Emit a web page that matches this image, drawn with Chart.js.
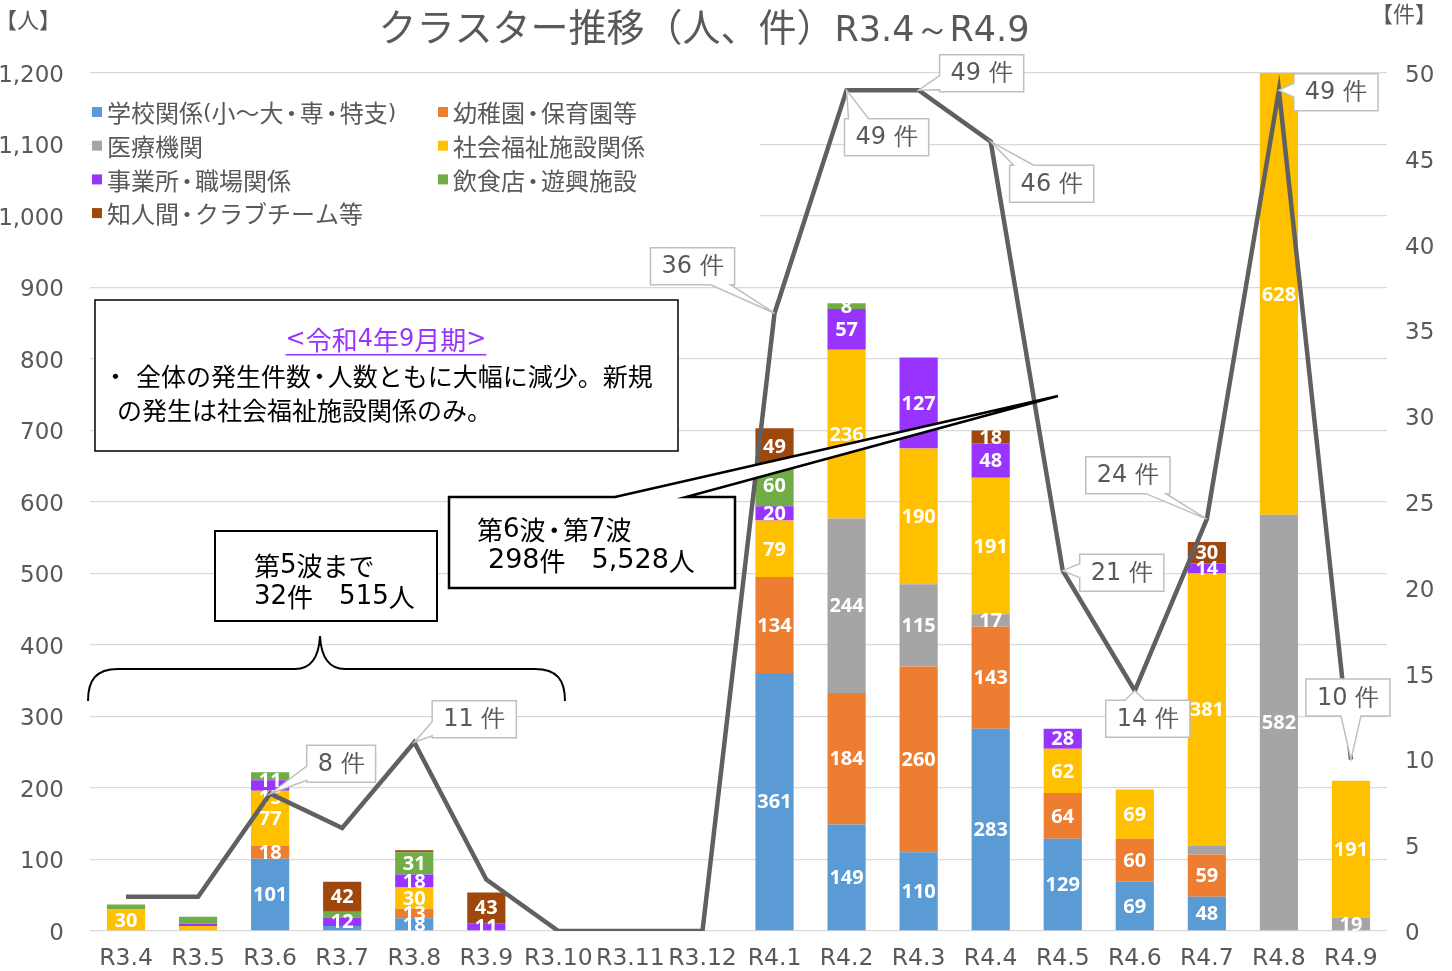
<!DOCTYPE html>
<html><head><meta charset="utf-8">
<script src="https://cdn.jsdelivr.net/npm/chart.js@4.4.1/dist/chart.umd.min.js"></script>
<style>html,body{margin:0;padding:0;background:#fff;overflow:hidden}</style>
</head><body>
<canvas id="c" width="1452" height="971" style="display:block;width:1452px;height:971px"></canvas>
<script>
// ---- data ----
const categories = ['R3.4','R3.5','R3.6','R3.7','R3.8','R3.9','R3.10','R3.11','R3.12','R4.1','R4.2','R4.3','R4.4','R4.5','R4.6','R4.7','R4.8','R4.9'];
const seriesNames = ['学校関係(小～大・専・特支)','幼稚園・保育園等','医療機関','社会福祉施設関係','事業所・職場関係','飲食店・遊興施設','知人間・クラブチーム等'];
const school    = [0,0,101,7,18,0,0,0,0,361,149,110,283,129,69,48,0,0];
const nursery   = [0,0,18,0,13,0,0,0,0,134,184,260,143,64,60,59,0,0];
const medical   = [0,0,0,0,0,0,0,0,0,0,244,115,17,0,0,12,582,19];
const welfare   = [30,7,77,0,30,0,0,0,0,79,236,190,191,62,69,381,628,191];
const workplace = [0,3,15,12,18,11,0,0,0,20,57,127,48,28,0,14,0,0];
const dining    = [7,10,11,8,31,0,0,0,0,60,8,0,0,0,0,0,0,0];
const friends   = [0,0,0,42,3,43,0,0,0,49,0,0,18,0,0,30,0,0];
const clusters  = [2,2,8,6,11,3,0,0,0,36,49,49,46,21,14,24,49,10];
const leftTicks  = [0,100,200,300,400,500,600,700,800,900,1000,1100,1200];
const rightTicks = [0,5,10,15,20,25,30,35,40,45,50];
const clusterUnit = '件';
const leftTicksUnit = '【人】';
const rightTicksUnit = '【件】';
const titleMain = 'クラスター推移（人、件）';
const titleSub = 'R3.4～R4.9';
// segments whose value is not labelled in the original
const unlabeled = ['飲食店・遊興施設|R3.4','社会福祉施設関係|R3.5','事業所・職場関係|R3.5','飲食店・遊興施設|R3.5',
  '学校関係(小～大・専・特支)|R3.7','飲食店・遊興施設|R3.7','知人間・クラブチーム等|R3.8','医療機関|R4.7'];
const calloutCategories = ['R3.6','R3.8','R4.1','R4.2','R4.3','R4.4','R4.5','R4.6','R4.7','R4.8','R4.9'];

// ---- styles ----
const colors = ['#5B9BD5','#ED7D31','#A5A5A5','#FFC000','#9933FF','#70AD47','#9E480E'];
const calloutOffsets = {'R3.6':[71,-30],'R3.8':[60,-23],'R4.1':[-82,-47],'R4.2':[40,47],'R4.3':[63,-17],
  'R4.4':[61,42],'R4.5':[59,2],'R4.6':[13,28],'R4.7':[-79,-44],'R4.8':[57,2],'R4.9':[-3,-62]};
const labelNudge = {'事業所・職場関係|R3.6':12,'飲食店・遊興施設|R3.6':4};
const TXT = '#595959';
const JP = '"Noto Sans CJK JP"';
const NUM = '"DejaVu Sans"';

const seriesValues = [school,nursery,medical,welfare,workplace,dining,friends];
const datasets = seriesNames.map((n,i)=>({
  type:'bar', label:n, data:seriesValues[i], backgroundColor:colors[i], yAxisID:'y', stack:'s', order:1,
  categoryPercentage:1, barPercentage:0.53
}));
datasets.push({type:'line', label:'件数', data:clusters, yAxisID:'y1', borderColor:'#606060', borderWidth:4.5,
  pointRadius:0, tension:0, order:0, fill:false});

function runs(text){
  const out=[]; let cur='', kind=null;
  for (const ch of text){
    const k = ch==='・' ? 'dot' : (ch.charCodeAt(0)<128 ? 'a' : 'j');
    if (k!==kind || k==='dot'){ if(cur) out.push([kind,cur]); cur=ch; kind=k; } else cur+=ch;
  }
  if (cur) out.push([kind,cur]);
  return out;
}
function mixedWidth(ctx,text,js,as){
  let w=0;
  for (const [k,s] of runs(text)){
    if (k==='dot'){ w+=js*0.67; continue; }
    ctx.font = (k==='a'? as+'px '+NUM : js+'px '+JP);
    w+=ctx.measureText(s).width;
  }
  return w;
}
function drawMixed(ctx,text,x,y,js,as,align){
  const w = mixedWidth(ctx,text,js,as);
  let cx = align==='center' ? x-w/2 : x;
  ctx.textAlign='left';
  for (const [k,s] of runs(text)){
    if (k==='dot'){
      ctx.font = js+'px '+JP; ctx.textAlign='center';
      ctx.fillText('・', cx+js*0.335, y); ctx.textAlign='left';
      cx+=js*0.67; continue;
    }
    ctx.font = (k==='a'? as+'px '+NUM : js+'px '+JP);
    ctx.fillText(s,cx,y); cx+=ctx.measureText(s).width;
  }
  return w;
}

function drawBarLabels(chart){
  const ctx = chart.ctx, ca = chart.chartArea;
  ctx.save();
  ctx.font = 'bold 20px "Open Sans"';
  ctx.fillStyle = '#fff'; ctx.textAlign='center'; ctx.textBaseline='middle';
  chart.data.datasets.forEach((ds,di)=>{
    if (ds.type!=='bar') return;
    const meta = chart.getDatasetMeta(di);
    meta.data.forEach((el,i)=>{
      const v = ds.data[i];
      if (!v) return;
      const key = ds.label+'|'+categories[i];
      if (unlabeled.includes(key)) return;
      const p = el.getProps(['x','y','base'],true);
      const top = Math.max(Math.min(p.y,p.base), ca.top);
      const bot = Math.min(Math.max(p.y,p.base), ca.bottom);
      ctx.fillText(String(v), p.x, (top+bot)/2+1+(labelNudge[key]||0));
    });
  });
  ctx.restore();
}
const barLabels = {
  id:'barLabels',
  beforeDatasetDraw(chart,args){
    if (args.meta.type==='line') drawBarLabels(chart);
  }
};

function calloutPath(ctx,l,t,r,b,px,py){
  const cx=(l+r)/2, cy=(t+b)/2, w=r-l, h=b-t;
  const dx=px-cx, dy=py-cy;
  const clamp=(v,a,c)=>Math.max(a,Math.min(c,v));
  ctx.beginPath();
  if (Math.abs(dx)/(w/2) > Math.abs(dy)/(h/2)) {
    const c = clamp(py,t+9,b-9);
    if (dx<0){
      ctx.moveTo(l,t); ctx.lineTo(r,t); ctx.lineTo(r,b); ctx.lineTo(l,b);
      ctx.lineTo(l,c+7); ctx.lineTo(px,py); ctx.lineTo(l,c-7);
    } else {
      ctx.moveTo(l,t); ctx.lineTo(r,t); ctx.lineTo(r,c-7); ctx.lineTo(px,py); ctx.lineTo(r,c+7);
      ctx.lineTo(r,b); ctx.lineTo(l,b);
    }
  } else {
    const c = clamp(px,l+14,r-14);
    if (dy<0){
      ctx.moveTo(l,t); ctx.lineTo(c-10,t); ctx.lineTo(px,py); ctx.lineTo(c+10,t); ctx.lineTo(r,t);
      ctx.lineTo(r,b); ctx.lineTo(l,b);
    } else {
      ctx.moveTo(l,t); ctx.lineTo(r,t); ctx.lineTo(r,b); ctx.lineTo(c+10,b); ctx.lineTo(px,py);
      ctx.lineTo(c-10,b); ctx.lineTo(l,b);
    }
  }
  ctx.closePath();
}

function textBox(ctx,l,t,r,b,lw){
  ctx.fillStyle='#fff'; ctx.fillRect(l,t,r-l,b-t);
  ctx.strokeStyle='#000'; ctx.lineWidth=lw; ctx.strokeRect(l,t,r-l,b-t);
}

const overlay = {
  id:'overlay',
  afterDraw(chart){
    const ctx = chart.ctx, ca = chart.chartArea;
    ctx.save();
    // y tick labels
    ctx.fillStyle = TXT; ctx.textBaseline='middle';
    ctx.font = '23px '+NUM;
    ctx.textAlign='right';
    leftTicks.forEach(v=>{
      ctx.fillText(v.toLocaleString('en-US'), ca.left-26, chart.scales.y.getPixelForValue(v)+3);
    });
    ctx.textAlign='left';
    rightTicks.forEach(v=>{
      ctx.fillText(String(v), ca.right+18, chart.scales.y1.getPixelForValue(v)+3);
    });
    // title
    ctx.textBaseline='alphabetic';
    ctx.font = '38px '+JP;
    const w1 = ctx.measureText(titleMain).width;
    ctx.font = '35px '+NUM;
    const w2 = ctx.measureText(titleSub).width;
    let x0 = 704 - (w1+w2)/2;
    ctx.font = '38px '+JP; ctx.fillText(titleMain, x0, 41);
    ctx.font = '35px '+NUM; ctx.fillText(titleSub, x0+w1, 41);
    // axis units
    ctx.font = '22px '+JP; ctx.textBaseline='middle';
    ctx.fillText(leftTicksUnit, -5, 20);
    ctx.fillText(rightTicksUnit, 1371, 14);

    // legend
    ctx.fillStyle='#fff'; ctx.fillRect(91,80,669,200);
    chart.data.datasets.forEach((ds,i)=>{
      if (ds.type!=='bar') return;
      const col = i%2, row = Math.floor(i/2);
      const x = col===0 ? 92 : 438, y = 112 + row*33.7;
      ctx.fillStyle = ds.backgroundColor; ctx.fillRect(x,y-5,10,10);
      ctx.fillStyle = TXT; drawMixed(ctx, ds.label, x+15, y+1, 24, 22, 'left');
    });

    // note box
    textBox(ctx,95,300,678,451,1.5);
    ctx.fillStyle='#9933FF';
    const h = '<令和4年9月期>';
    const hw = drawMixed(ctx, h, 386, 340, 26, 24, 'center');
    ctx.fillRect(386-hw/2, 354, hw, 1.5);
    ctx.fillStyle='#000';
    ctx.font='25px '+JP; ctx.textAlign='left';
    ctx.fillText('・', 103, 376);
    drawMixed(ctx,'全体の発生件数・人数ともに大幅に減少。新規', 136, 376, 25, 23, 'left');
    drawMixed(ctx,'の発生は社会福祉施設関係のみ。', 117, 410, 25, 23, 'left');

    // brace
    ctx.strokeStyle='#000'; ctx.lineWidth=2;
    ctx.beginPath();
    ctx.moveTo(88,701);
    ctx.bezierCurveTo(88,680,96,669,118,669);
    ctx.lineTo(295,669);
    ctx.bezierCurveTo(312,669,319,655,320,636);
    ctx.bezierCurveTo(321,655,328,669,345,669);
    ctx.lineTo(535,669);
    ctx.bezierCurveTo(557,669,565,680,565,701);
    ctx.stroke();

    // wave 5 box
    textBox(ctx,215,531,437,621,2);
    ctx.fillStyle='#000';
    drawMixed(ctx,'第5波まで', 254, 566, 26, 26, 'left');
    drawMixed(ctx,'32件　515人', 254, 597, 26, 26, 'left');

    // wave 6-7 box with tail
    ctx.beginPath();
    ctx.moveTo(449,497); ctx.lineTo(615,497); ctx.lineTo(1058,396); ctx.lineTo(686,497);
    ctx.lineTo(735,497); ctx.lineTo(735,588); ctx.lineTo(449,588); ctx.closePath();
    ctx.fillStyle='#fff'; ctx.fill();
    ctx.strokeStyle='#000'; ctx.lineWidth=2.5; ctx.stroke();
    ctx.fillStyle='#000';
    drawMixed(ctx,'第6波・第7波', 477, 530, 26, 26, 'left');
    drawMixed(ctx,'298件　5,528人', 488, 561, 26, 27, 'left');

    // callouts
    const lineMeta = chart.getDatasetMeta(chart.data.datasets.length-1);
    calloutCategories.forEach(cat=>{
      const i = categories.indexOf(cat);
      const pt = lineMeta.data[i];
      const off = calloutOffsets[cat];
      const txt = clusters[i]+' '+clusterUnit;
      ctx.font = '24px '+NUM;
      const tw = ctx.measureText(txt).width;
      const bw = tw+22, bh = 37;
      const cx = pt.x+off[0], cy = pt.y+off[1];
      calloutPath(ctx, cx-bw/2, cy-bh/2, cx+bw/2, cy+bh/2, pt.x, pt.y);
      ctx.fillStyle='#fff'; ctx.fill();
      ctx.strokeStyle='#BFBFBF'; ctx.lineWidth=1.5; ctx.stroke();
      ctx.fillStyle=TXT; ctx.textAlign='center'; ctx.textBaseline='middle';
      ctx.fillText(txt, cx, cy+1);
    });
    ctx.restore();
  }
};

new Chart(document.getElementById('c'), {
  data:{labels:categories, datasets},
  options:{
    responsive:false, animation:false, devicePixelRatio:1,
    layout:{padding:{top:73,left:0,right:0,bottom:0}},
    plugins:{legend:{display:false}, tooltip:{enabled:false}, title:{display:false}},
    scales:{
      x:{stacked:true, grid:{display:false}, border:{display:false},
         ticks:{color:TXT, font:{family:'DejaVu Sans', size:23.5}, padding:6, maxRotation:0, autoSkip:false},
         afterFit(s){ s.height = 40; }},
      y:{stacked:true, position:'left', min:0, max:1200,
         ticks:{stepSize:100, display:false},
         grid:{color:'#D9D9D9', lineWidth:1.3, drawTicks:false}, border:{display:false},
         afterFit(s){ s.width = 90; }},
      y1:{position:'right', min:0, max:50,
         ticks:{stepSize:5, display:false},
         grid:{display:false, drawTicks:false}, border:{display:false},
         afterFit(s){ s.width = 65; }}
    }
  },
  plugins:[barLabels, overlay]
});
</script>
</body></html>
